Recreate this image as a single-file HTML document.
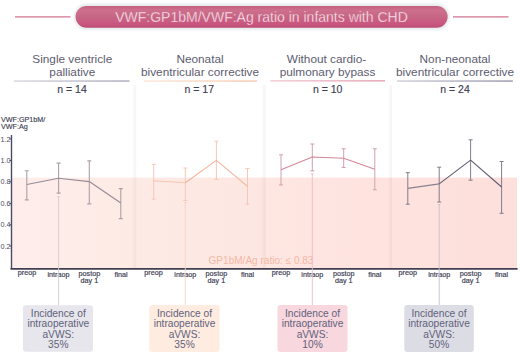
<!DOCTYPE html>
<html>
<head>
<meta charset="utf-8">
<style>
html,body{margin:0;padding:0;background:#fff;}
body{width:520px;height:354px;overflow:hidden;position:relative;font-family:"Liberation Sans",sans-serif;}
svg{position:absolute;left:0;top:0;}
svg text{font-family:"Liberation Sans",sans-serif;}
</style>
</head>
<body>
<svg width="520" height="354" viewBox="0 0 520 354">
  <defs>
    <linearGradient id="pill" x1="0" y1="5.9" x2="0" y2="27.7" gradientUnits="userSpaceOnUse">
      <stop offset="0" stop-color="#c25f7d"/>
      <stop offset="0.18" stop-color="#ce6f8e"/>
      <stop offset="0.45" stop-color="#c66886"/>
      <stop offset="0.75" stop-color="#ca5a81"/>
      <stop offset="1" stop-color="#bf4e77"/>
    </linearGradient>
    <filter id="sh" x="-5%" y="-50%" width="110%" height="200%">
      <feGaussianBlur in="SourceAlpha" stdDeviation="1.2"/>
      <feOffset dx="0" dy="1" result="b"/>
      <feComponentTransfer><feFuncA type="linear" slope="0.25"/></feComponentTransfer>
      <feMerge><feMergeNode/><feMergeNode in="SourceGraphic"/></feMerge>
    </filter>
    <linearGradient id="div" x1="0" y1="0" x2="1" y2="0">
      <stop offset="0" stop-color="#000" stop-opacity="0"/>
      <stop offset="0.45" stop-color="#000" stop-opacity="0.012"/>
      <stop offset="0.55" stop-color="#000" stop-opacity="0.03"/>
      <stop offset="1" stop-color="#000" stop-opacity="0.04"/>
    </linearGradient>
    <linearGradient id="band" x1="0" y1="0" x2="1" y2="0">
      <stop offset="0" stop-color="#feedeb"/>
      <stop offset="0.27" stop-color="#fdeae4"/>
      <stop offset="0.65" stop-color="#fee4e0"/>
      <stop offset="1" stop-color="#fddfdb"/>
    </linearGradient>
    <linearGradient id="u1" x1="0" y1="0" x2="1" y2="0"><stop offset="0" stop-color="#d2d2da"/><stop offset="1" stop-color="#a2a2b6"/></linearGradient>
    <linearGradient id="u2" x1="0" y1="0" x2="1" y2="0"><stop offset="0" stop-color="#fbe4d7"/><stop offset="1" stop-color="#f5c3a6"/></linearGradient>
    <linearGradient id="u3" x1="0" y1="0" x2="1" y2="0"><stop offset="0" stop-color="#f1c6d0"/><stop offset="1" stop-color="#e298ab"/></linearGradient>
    <linearGradient id="u4" x1="0" y1="0" x2="1" y2="0"><stop offset="0" stop-color="#c9c9d4"/><stop offset="1" stop-color="#8c8ca4"/></linearGradient>
    <filter id="glow" x="-5%" y="-50%" width="110%" height="200%"><feGaussianBlur stdDeviation="1.1"/></filter>
  </defs>

  <!-- title -->
  <line x1="15" y1="16.8" x2="70.5" y2="16.8" stroke="#d5758f" stroke-width="1.3"/>
  <line x1="453" y1="16.8" x2="508.5" y2="16.8" stroke="#d5758f" stroke-width="1.3"/>
  <rect x="73.8" y="3.6" width="375.8" height="26.4" rx="13.2" fill="#e6ecec" filter="url(#glow)"/>
  <rect x="75.6" y="5.9" width="372" height="21.8" rx="10.9" fill="url(#pill)"/>
  <text x="261.5" y="21.8" font-size="14" fill="#fdeef3" stroke="url(#pill)" stroke-width="0.3" text-anchor="middle">VWF:GP1bM/VWF:Ag ratio in infants with CHD</text>

  <!-- column dividers -->

  <!-- headers -->
  <g font-size="11.8" fill="#5c5c70" text-anchor="middle">
    <text x="72.3" y="63">Single ventricle</text>
    <text x="72.3" y="75.6">palliative</text>
    <text x="200" y="63.2">Neonatal</text>
    <text x="200" y="75.6">biventricular corrective</text>
    <text x="326.5" y="63.2">Without cardio-</text>
    <text x="327.5" y="75.6">pulmonary bypass</text>
    <text x="455" y="63.2">Non-neonatal</text>
    <text x="455" y="75.6">biventricular corrective</text>
  </g>
  <rect x="14" y="80.4" width="115.5" height="1.3" fill="url(#u1)"/>
  <rect x="143.8" y="80.4" width="113.2" height="1.3" fill="url(#u2)"/>
  <rect x="270.3" y="80.2" width="114.7" height="1.3" fill="url(#u3)"/>
  <rect x="397" y="80.4" width="115.8" height="1.3" fill="url(#u4)"/>
  <g font-size="10.5" fill="#3e3e52" stroke="#3e3e52" stroke-width="0.15" text-anchor="middle">
    <text x="72" y="92.6">n = 14</text>
    <text x="199.3" y="92.6">n = 17</text>
    <text x="327.7" y="92.6">n = 10</text>
    <text x="455" y="92.6">n = 24</text>
  </g>

  <!-- pink band -->
  <rect x="12" y="177.6" width="505" height="90.7" fill="url(#band)"/>
  <g fill="url(#div)">
    <rect x="131" y="85" width="5.3" height="183"/>
    <rect x="260" y="85" width="5.7" height="183"/>
    <rect x="387" y="85" width="5" height="183"/>
  </g>
  <text x="261" y="263.7" font-size="10.05" fill="#f5b7a5" text-anchor="middle">GP1bM/Ag ratio: ≤ 0.83</text>

  <!-- y axis label -->
  <g font-size="7.2" fill="#3e3e52" stroke="#3e3e52" stroke-width="0.15">
    <text x="1" y="122">VWF:GP1bM/</text>
    <text x="1" y="129.4">VWF:Ag</text>
  </g>
  <!-- axes -->
  <line x1="11.5" y1="135" x2="11.5" y2="269" stroke="#4a4a62" stroke-width="1.4"/>
  <line x1="10.5" y1="268.9" x2="517.6" y2="268.9" stroke="#433f52" stroke-width="1.6"/>
  <g stroke="#4a4a62" stroke-width="1">
    <line x1="9.5" y1="139" x2="11.5" y2="139"/>
    <line x1="9.5" y1="160.5" x2="11.5" y2="160.5"/>
    <line x1="9.5" y1="181.8" x2="11.5" y2="181.8"/>
    <line x1="9.5" y1="203.5" x2="11.5" y2="203.5"/>
    <line x1="9.5" y1="224.8" x2="11.5" y2="224.8"/>
    <line x1="9.5" y1="246.1" x2="11.5" y2="246.1"/>
  </g>
  <g font-size="7.2" fill="#4a4a5e">
    <text x="0.5" y="141.6">1.2</text>
    <text x="0.5" y="163.1">1.0</text>
    <text x="0.5" y="184.4">0.8</text>
    <text x="0.5" y="206.1">0.6</text>
    <text x="0.5" y="227.4">0.4</text>
    <text x="0.5" y="248.7">0.2</text>
  </g>

  <!-- x labels -->
  <g font-size="7.2" fill="#3c3c52" stroke="#3c3c52" stroke-width="0.18" text-anchor="middle">
    <text x="27" y="275.1">preop</text>
    <text x="58.5" y="276.5">intraop</text>
    <text x="89.4" y="276.3">postop</text>
    <text x="89.4" y="282.9">day 1</text>
    <text x="121" y="276.5">final</text>

    <text x="153.5" y="275.1">preop</text>
    <text x="185.3" y="276.5">intraop</text>
    <text x="216.4" y="276.3">postop</text>
    <text x="216.4" y="282.9">day 1</text>
    <text x="247.5" y="276.5">final</text>

    <text x="281" y="275.1">preop</text>
    <text x="312.3" y="276.5">intraop</text>
    <text x="343.7" y="276.3">postop</text>
    <text x="343.7" y="282.9">day 1</text>
    <text x="374.8" y="276.5">final</text>

    <text x="407.8" y="275.1">preop</text>
    <text x="439.2" y="276.5">intraop</text>
    <text x="470.6" y="276.3">postop</text>
    <text x="470.6" y="282.9">day 1</text>
    <text x="501.6" y="276.5">final</text>
  </g>

  <!-- connectors to boxes -->
  <line x1="58.6" y1="196.3" x2="58.6" y2="305.5" stroke="#d6ccd2" stroke-width="0.9"/>
  <line x1="57.4" y1="196.8" x2="59.800000000000004" y2="196.8" stroke="#d6ccd2" stroke-width="1"/>
  <line x1="185.3" y1="202" x2="185.3" y2="305.5" stroke="#f4d3c3" stroke-width="0.9"/>
  <line x1="184.10000000000002" y1="202.5" x2="186.5" y2="202.5" stroke="#f4d3c3" stroke-width="1"/>
  <line x1="312.3" y1="173.5" x2="312.3" y2="305.5" stroke="#ebbcc8" stroke-width="0.9"/>
  <line x1="311.1" y1="174.0" x2="313.5" y2="174.0" stroke="#ebbcc8" stroke-width="1"/>
  <line x1="439.2" y1="204.2" x2="439.2" y2="305.5" stroke="#c2c2cf" stroke-width="0.9"/>
  <line x1="438.0" y1="204.7" x2="440.4" y2="204.7" stroke="#c2c2cf" stroke-width="1"/>
  <!-- series 1 -->
  <path d="M26.8 170.8V199.9M24.8 170.8h4.0M24.8 199.9h4.0M58.6 163.1V193.1M56.6 163.1h4.0M56.6 193.1h4.0M89.3 160.9V203.9M87.3 160.9h4.0M87.3 203.9h4.0M120.8 188.6V218.6M118.8 188.6h4.0M118.8 218.6h4.0" stroke="#aca1a7" stroke-width="1.1" fill="none"/>
  <polyline points="26.8,184.5 58.6,178.2 89.3,181.6 120.8,203" stroke="#968b96" stroke-width="1.15" fill="none" stroke-linejoin="round"/>
  <!-- series 2 -->
  <path d="M153.7 164.4V199.1M151.7 164.4h4.0M151.7 199.1h4.0M185.3 168V200.5M183.3 168h4.0M183.3 200.5h4.0M216.4 141.2V179.4M214.4 141.2h4.0M214.4 179.4h4.0M247.5 168.6V204.2M245.5 168.6h4.0M245.5 204.2h4.0" stroke="#f5c8b6" stroke-width="1" fill="none"/>
  <polyline points="153.7,180.8 185.3,182.7" stroke="#f6c7b2" stroke-width="1.05" fill="none"/>
  <polyline points="185.3,182.7 216.4,160.4 247.5,186.4" stroke="#f3b398" stroke-width="1.05" fill="none" stroke-linejoin="round"/>
  <!-- series 3 -->
  <path d="M281 154.8V185M279.0 154.8h4.0M279.0 185h4.0M312.3 144V170.9M310.3 144h4.0M310.3 170.9h4.0M343.7 148.8V167.5M341.7 148.8h4.0M341.7 167.5h4.0M374.8 148.8V189.8M372.8 148.8h4.0M372.8 189.8h4.0" stroke="#d1a0ae" stroke-width="1" fill="none"/>
  <polyline points="281,169.7 312.3,157 343.7,158.2 374.8,169.2" stroke="#d3869a" stroke-width="1.05" fill="none" stroke-linejoin="round"/>
  <!-- series 4 -->
  <path d="M407.8 172.6V204.2M405.8 172.6h4.0M405.8 204.2h4.0M439.2 167.2V202M437.2 167.2h4.0M437.2 202h4.0M470.6 139.8V180.2M468.6 139.8h4.0M468.6 180.2h4.0M501.6 161.5V213.3M499.6 161.5h4.0M499.6 213.3h4.0" stroke="#827d8c" stroke-width="1" fill="none"/>
  <polyline points="407.8,188.4 439.2,183.9" stroke="#8a8190" stroke-width="1.1" fill="none"/>
  <polyline points="439.2,183.9 470.6,160.1 501.6,187" stroke="#635e74" stroke-width="1.15" fill="none" stroke-linejoin="round"/>

  <!-- boxes -->
  <rect x="23" y="305.3" width="70" height="46.5" rx="3" fill="#e6e6ec"/>
  <rect x="149.3" y="305" width="70.3" height="47" rx="3" fill="#feece1"/>
  <rect x="277.5" y="305" width="70" height="47" rx="3" fill="#f8d7df"/>
  <rect x="404.3" y="305" width="69.5" height="47" rx="3" fill="#dcdce5"/>
  <g font-size="10.2" fill="#62627a" text-anchor="middle">
    <text x="58.3" y="316.9">Incidence of</text>
    <text x="58.3" y="327.1">intraoperative</text>
    <text x="58.3" y="337.5">aVWS:</text>
    <text x="58.3" y="347.9">35%</text>

    <text x="184.5" y="316.9">Incidence of</text>
    <text x="184.5" y="327.1">intraoperative</text>
    <text x="184.5" y="337.5">aVWS:</text>
    <text x="184.5" y="347.9">35%</text>

    <text x="312.5" y="316.9">Incidence of</text>
    <text x="312.5" y="327.1">intraoperative</text>
    <text x="312.5" y="337.5">aVWS:</text>
    <text x="312.5" y="347.9">10%</text>

    <text x="439" y="316.9">Incidence of</text>
    <text x="439" y="327.1">intraoperative</text>
    <text x="439" y="337.5">aVWS:</text>
    <text x="439" y="347.9">50%</text>
  </g>
</svg>
</body>
</html>
